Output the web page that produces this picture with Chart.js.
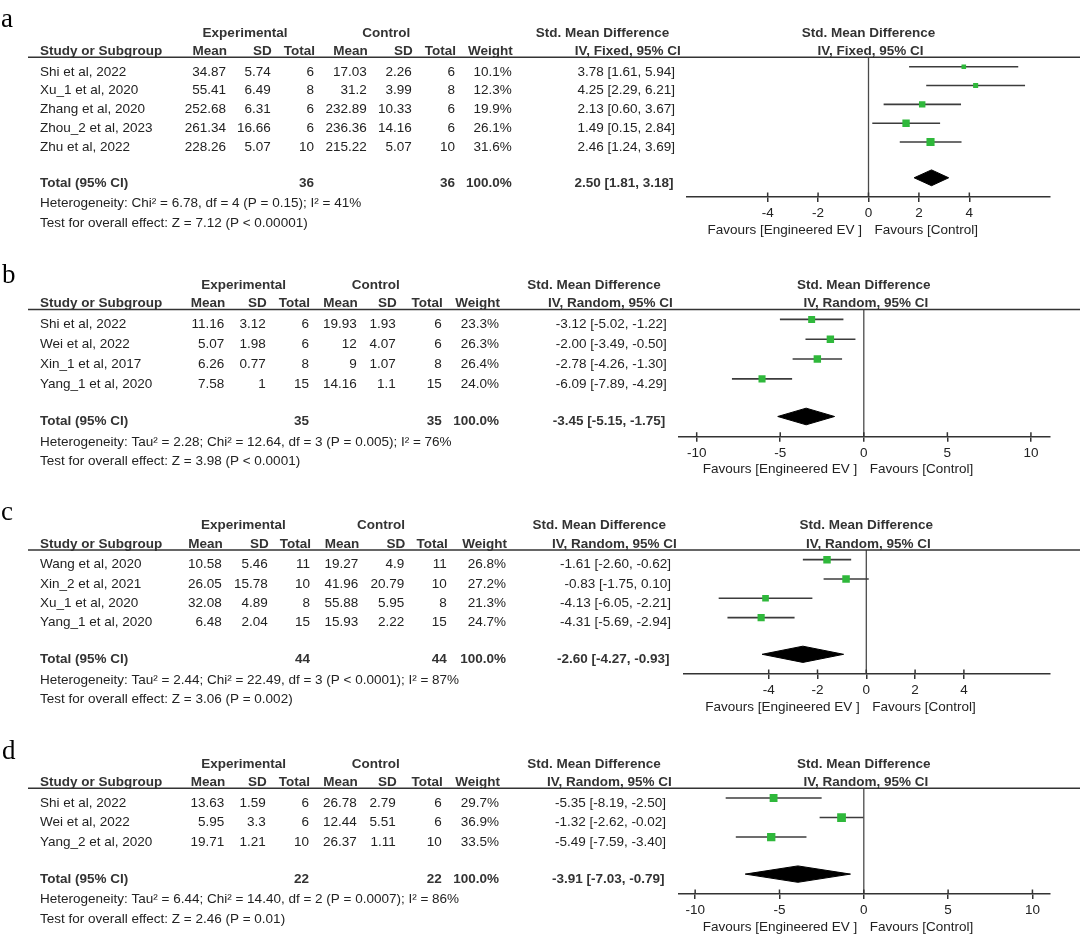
<!DOCTYPE html>
<html>
<head>
<meta charset="utf-8">
<script src="https://cdn.jsdelivr.net/npm/chart.js@4.4.1/dist/chart.umd.min.js"></script>
<style>
  html, body { margin: 0; padding: 0; background: #fff; }
  #wrap { position: relative; width: 1080px; height: 943px; overflow: hidden; }
  canvas { position: absolute; left: 0; }
</style>
</head>
<body>
<div id="wrap">
  <canvas id="plotA" width="1080" height="240" style="top:0px"></canvas>
  <canvas id="plotB" width="1080" height="240" style="top:240px"></canvas>
  <canvas id="plotC" width="1080" height="238" style="top:480px"></canvas>
  <canvas id="plotD" width="1080" height="225" style="top:718px"></canvas>
</div>
<script>
// ---- panel a ----
var studiesA = ['Shi et al, 2022', 'Xu_1 et al, 2020', 'Zhang et al, 2020', 'Zhou_2 et al, 2023', 'Zhu et al, 2022'];
var expMeanA = [34.87, 55.41, 252.68, 261.34, 228.26];
var expSdA = [5.74, 6.49, 6.31, 16.66, 5.07];
var expNA = [6, 8, 6, 6, 10];
var ctlMeanA = [17.03, 31.2, 232.89, 236.36, 215.22];
var ctlSdA = [2.26, 3.99, 10.33, 14.16, 5.07];
var ctlNA = [6, 8, 6, 6, 10];
var weightA = [10.1, 12.3, 19.9, 26.1, 31.6];
var smdA = [3.78, 4.25, 2.13, 1.49, 2.46];
var loA = [1.61, 2.29, 0.60, 0.15, 1.24];
var hiA = [5.94, 6.21, 3.67, 2.84, 3.69];
var totalA = [2.50, 1.81, 3.18];
var totalNA = [36, 36];
var hetA = 'Heterogeneity: Chi\u00b2 = 6.78, df = 4 (P = 0.15); I\u00b2 = 41%';
var testA = 'Test for overall effect: Z = 7.12 (P < 0.00001)';
var methodA = 'IV, Fixed, 95% CI';
var ticksA = [-4, -2, 0, 2, 4];

// ---- panel b ----
var studiesB = ['Shi et al, 2022', 'Wei et al, 2022', 'Xin_1 et al, 2017', 'Yang_1 et al, 2020'];
var expMeanB = [11.16, 5.07, 6.26, 7.58];
var expSdB = [3.12, 1.98, 0.77, 1];
var expNB = [6, 6, 8, 15];
var ctlMeanB = [19.93, 12, 9, 14.16];
var ctlSdB = [1.93, 4.07, 1.07, 1.1];
var ctlNB = [6, 6, 8, 15];
var weightB = [23.3, 26.3, 26.4, 24.0];
var smdB = [-3.12, -2.00, -2.78, -6.09];
var loB = [-5.02, -3.49, -4.26, -7.89];
var hiB = [-1.22, -0.50, -1.30, -4.29];
var totalB = [-3.45, -5.15, -1.75];
var totalNB = [35, 35];
var hetB = 'Heterogeneity: Tau\u00b2 = 2.28; Chi\u00b2 = 12.64, df = 3 (P = 0.005); I\u00b2 = 76%';
var testB = 'Test for overall effect: Z = 3.98 (P < 0.0001)';
var methodB = 'IV, Random, 95% CI';
var ticksB = [-10, -5, 0, 5, 10];

// ---- panel c ----
var studiesC = ['Wang et al, 2020', 'Xin_2 et al, 2021', 'Xu_1 et al, 2020', 'Yang_1 et al, 2020'];
var expMeanC = [10.58, 26.05, 32.08, 6.48];
var expSdC = [5.46, 15.78, 4.89, 2.04];
var expNC = [11, 10, 8, 15];
var ctlMeanC = [19.27, 41.96, 55.88, 15.93];
var ctlSdC = [4.9, 20.79, 5.95, 2.22];
var ctlNC = [11, 10, 8, 15];
var weightC = [26.8, 27.2, 21.3, 24.7];
var smdC = [-1.61, -0.83, -4.13, -4.31];
var loC = [-2.60, -1.75, -6.05, -5.69];
var hiC = [-0.62, 0.10, -2.21, -2.94];
var totalC = [-2.60, -4.27, -0.93];
var totalNC = [44, 44];
var hetC = 'Heterogeneity: Tau\u00b2 = 2.44; Chi\u00b2 = 22.49, df = 3 (P < 0.0001); I\u00b2 = 87%';
var testC = 'Test for overall effect: Z = 3.06 (P = 0.002)';
var methodC = 'IV, Random, 95% CI';
var ticksC = [-4, -2, 0, 2, 4];

// ---- panel d ----
var studiesD = ['Shi et al, 2022', 'Wei et al, 2022', 'Yang_2 et al, 2020'];
var expMeanD = [13.63, 5.95, 19.71];
var expSdD = [1.59, 3.3, 1.21];
var expND = [6, 6, 10];
var ctlMeanD = [26.78, 12.44, 26.37];
var ctlSdD = [2.79, 5.51, 1.11];
var ctlND = [6, 6, 10];
var weightD = [29.7, 36.9, 33.5];
var smdD = [-5.35, -1.32, -5.49];
var loD = [-8.19, -2.62, -7.59];
var hiD = [-2.50, -0.02, -3.40];
var totalD = [-3.91, -7.03, -0.79];
var totalND = [22, 22];
var hetD = 'Heterogeneity: Tau\u00b2 = 6.44; Chi\u00b2 = 14.40, df = 2 (P = 0.0007); I\u00b2 = 86%';
var testD = 'Test for overall effect: Z = 2.46 (P = 0.01)';
var methodD = 'IV, Random, 95% CI';
var ticksD = [-10, -5, 0, 5, 10];

var FONT = '"Liberation Sans", Arial, sans-serif';
var TXT = '#222';
var GREEN = '#2fb83b';

function makePanel(id, letter, d, lay) {
  var n = d.studies.length;
  var totRow = n + 0.9;
  var yMax = n + 1.92;

  var datasets = [];
  // study squares (first = drawn on top)
  datasets.push({
    data: d.smd.map(function (v, i) { return { x: v, y: i }; }),
    pointStyle: 'rect',
    pointRadius: d.weight.map(function (w) { return Math.sqrt(w) * 1.02; }),
    backgroundColor: GREEN,
    borderWidth: 0,
    showLine: false
  });
  // pooled diamond
  datasets.push({
    data: [
      { x: d.total[1], y: totRow },
      { x: d.total[0], y: totRow - 0.42 },
      { x: d.total[2], y: totRow },
      { x: d.total[0], y: totRow + 0.42 },
      { x: d.total[1], y: totRow }
    ],
    showLine: true,
    fill: 'shape',
    backgroundColor: '#000',
    borderColor: '#000',
    borderWidth: 1,
    pointRadius: 0
  });
  // confidence intervals
  d.lo.forEach(function (lo, i) {
    datasets.push({
      data: [{ x: lo, y: i }, { x: d.hi[i], y: i }],
      showLine: true,
      borderColor: '#3c3c3c',
      borderWidth: 1.6,
      pointRadius: 0
    });
  });
  // line of no effect
  datasets.push({
    data: [{ x: 0, y: -0.5 }, { x: 0, y: yMax }],
    showLine: true,
    borderColor: '#4a4a4a',
    borderWidth: 1.3,
    pointRadius: 0
  });

  var tablePlugin = {
    id: 'table' + letter,
    afterDraw: function (chart) {
      var ctx = chart.ctx;
      var ys = chart.scales.y;
      var xs = chart.scales.x;
      var area = chart.chartArea;
      var hy = area.top;
      var c = lay.cols;
      ctx.save();

      // panel letter
      ctx.fillStyle = '#000';
      ctx.font = '27px "Liberation Serif", "Times New Roman", serif';
      ctx.textAlign = 'left';
      ctx.textBaseline = 'alphabetic';
      ctx.fillText(letter, lay.letterX, lay.letterY);

      // header rule
      ctx.strokeStyle = '#333';
      ctx.lineWidth = 1.5;
      ctx.beginPath();
      ctx.moveTo(28, hy);
      ctx.lineTo(1080, hy);
      ctx.stroke();

      function txt(s, x, y, align, bold) {
        ctx.font = (bold ? 'bold ' : '') + '13.5px ' + FONT;
        ctx.fillStyle = bold ? '#333' : TXT;
        ctx.textAlign = align;
        ctx.fillText(s, x, y);
      }

      // headers
      var h1 = hy - 20.6, h2 = hy - 2.5;
      txt('Experimental', lay.expC, h1, 'center', true);
      txt('Control', lay.ctlC, h1, 'center', true);
      txt('Std. Mean Difference', lay.smdH1R, h1, 'right', true);
      var mid = (area.left + area.right) / 2;
      txt('Std. Mean Difference', mid, h1, 'center', true);
      txt('Study or Subgroup', 40, h2, 'left', true);
      var heads = ['Mean', 'SD', 'Total', 'Mean', 'SD', 'Total', 'Weight'];
      heads.forEach(function (h, k) { txt(h, c[k] + 1, h2, 'right', true); });
      txt(d.method, lay.smdH2R, h2, 'right', true);
      txt(d.method, mid + 2, h2, 'center', true);

      // study rows
      d.studies.forEach(function (s, i) {
        var y = ys.getPixelForValue(i) + 8.8;
        txt(s, 40, y, 'left');
        txt(String(d.expMean[i]), c[0], y, 'right');
        txt(String(d.expSd[i]), c[1], y, 'right');
        txt(String(d.expN[i]), c[2], y, 'right');
        txt(String(d.ctlMean[i]), c[3], y, 'right');
        txt(String(d.ctlSd[i]), c[4], y, 'right');
        txt(String(d.ctlN[i]), c[5], y, 'right');
        txt(d.weight[i].toFixed(1) + '%', c[6], y, 'right');
        txt(d.smd[i].toFixed(2) + ' [' + d.lo[i].toFixed(2) + ', ' + d.hi[i].toFixed(2) + ']', lay.smdR, y, 'right');
      });

      // total row
      var ty = ys.getPixelForValue(totRow) + 8.8;
      txt('Total (95% CI)', 40, ty, 'left', true);
      txt(String(d.totalN[0]), c[2], ty, 'right', true);
      txt(String(d.totalN[1]), c[5], ty, 'right', true);
      txt('100.0%', c[6], ty, 'right', true);
      txt(d.total[0].toFixed(2) + ' [' + d.total[1].toFixed(2) + ', ' + d.total[2].toFixed(2) + ']', lay.smdR - 1.5, ty, 'right', true);
      txt(d.het, 40, ty + 20.5, 'left');
      txt(d.test, 40, ty + 40, 'left');

      // upward half of axis ticks
      ctx.strokeStyle = '#333';
      ctx.lineWidth = 1.5;
      xs.ticks.forEach(function (t) {
        var px = xs.getPixelForValue(t.value);
        ctx.beginPath();
        ctx.moveTo(px, area.bottom);
        ctx.lineTo(px, area.bottom - 4.5);
        ctx.stroke();
      });

      // favours labels
      var zx = xs.getPixelForValue(0);
      txt('Favours [Engineered EV ]', zx - 6.5, area.bottom + 36.5, 'right');
      txt('Favours [Control]', zx + 6, area.bottom + 36.5, 'left');
      ctx.restore();
    }
  };

  var canvas = document.getElementById(id);
  return new Chart(canvas, {
    type: 'scatter',
    data: { datasets: datasets },
    options: {
      responsive: false,
      animation: false,
      events: [],
      layout: {
        padding: {
          left: lay.plotL,
          right: 1080 - lay.plotR,
          top: lay.headerY - lay.top,
          bottom: canvas.height - (lay.axisY - lay.top) - 40
        }
      },
      plugins: { legend: { display: false }, tooltip: { enabled: false } },
      scales: {
        x: {
          type: 'linear',
          min: lay.xMin,
          max: lay.xMax,
          afterBuildTicks: function (s) { s.ticks = d.ticks.map(function (v) { return { value: v }; }); },
          afterFit: function (s) { s.height = 40; },
          grid: { drawOnChartArea: false, drawTicks: true, tickLength: 5, color: '#333', lineWidth: 1.5 },
          border: { display: true, color: '#333', width: 1.5 },
          ticks: { color: TXT, font: { family: FONT, size: 13.5 }, padding: 3, maxRotation: 0 }
        },
        y: {
          type: 'linear',
          display: false,
          reverse: true,
          min: -0.5,
          max: yMax
        }
      }
    },
    plugins: [tablePlugin]
  });
}

makePanel('plotA', 'a', {
  studies: studiesA, expMean: expMeanA, expSd: expSdA, expN: expNA, ctlMean: ctlMeanA, ctlSd: ctlSdA, ctlN: ctlNA,
  weight: weightA, smd: smdA, lo: loA, hi: hiA, total: totalA, totalN: totalNA, het: hetA, test: testA, method: methodA, ticks: ticksA
}, { top: 0, headerY: 57.3, axisY: 197, xMin: -7.2, xMax: 7.2, plotL: 687, plotR: 1050,
     cols: [226, 270.7, 314, 366.7, 411.7, 455, 511.7], expC: 245, ctlC: 386.3, smdR: 675, smdH1R: 669.3, smdH2R: 680.7, letterX: 1, letterY: 27 });

makePanel('plotB', 'b', {
  studies: studiesB, expMean: expMeanB, expSd: expSdB, expN: expNB, ctlMean: ctlMeanB, ctlSd: ctlSdB, ctlN: ctlNB,
  weight: weightB, smd: smdB, lo: loB, hi: hiB, total: totalB, totalN: totalNB, het: hetB, test: testB, method: methodB, ticks: ticksB
}, { top: 240, headerY: 309.5, axisY: 436.7, xMin: -11.1, xMax: 11.1, plotL: 678.3, plotR: 1049.3,
     cols: [224.3, 265.7, 309, 356.7, 395.7, 441.7, 499], expC: 243.7, ctlC: 375.8, smdR: 666.7, smdH1R: 660.7, smdH2R: 672.7, letterX: 2, letterY: 43 });

makePanel('plotC', 'c', {
  studies: studiesC, expMean: expMeanC, expSd: expSdC, expN: expNC, ctlMean: ctlMeanC, ctlSd: ctlSdC, ctlN: ctlNC,
  weight: weightC, smd: smdC, lo: loC, hi: hiC, total: totalC, totalN: totalNC, het: hetC, test: testC, method: methodC, ticks: ticksC
}, { top: 480, headerY: 550, axisY: 674, xMin: -7.5, xMax: 7.5, plotL: 683.3, plotR: 1049.3,
     cols: [221.7, 267.7, 310, 358.3, 404.3, 446.7, 506], expC: 243.3, ctlC: 381, smdR: 671, smdH1R: 666, smdH2R: 676.7, letterX: 1, letterY: 40 });

makePanel('plotD', 'd', {
  studies: studiesD, expMean: expMeanD, expSd: expSdD, expN: expND, ctlMean: ctlMeanD, ctlSd: ctlSdD, ctlN: ctlND,
  weight: weightD, smd: smdD, lo: loD, hi: hiD, total: totalD, totalN: totalND, het: hetD, test: testD, method: methodD, ticks: ticksD
}, { top: 718, headerY: 788.3, axisY: 894, xMin: -11, xMax: 11, plotL: 678.3, plotR: 1049.3,
     cols: [224.3, 265.7, 309, 356.7, 395.7, 441.7, 499], expC: 243.7, ctlC: 375.8, smdR: 666, smdH1R: 660.7, smdH2R: 671.7, letterX: 2, letterY: 41 });
</script>
</body>
</html>
